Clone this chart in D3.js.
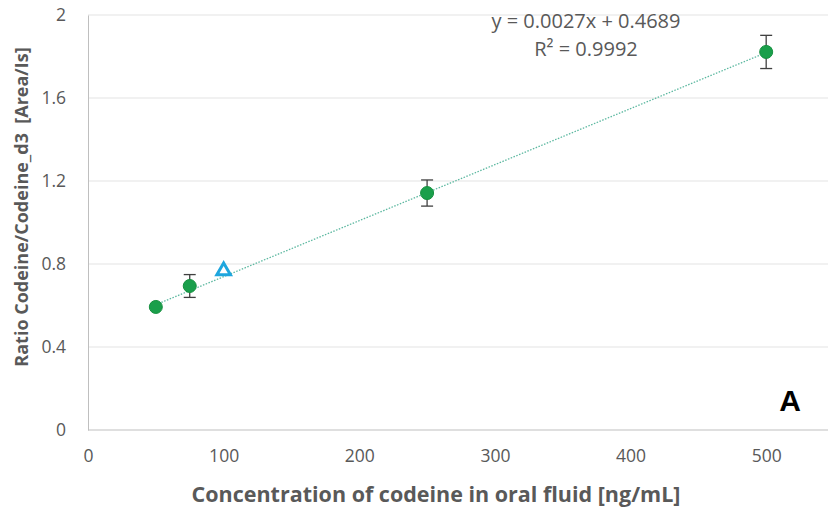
<!DOCTYPE html>
<html><head><meta charset="utf-8">
<script src="https://cdn.jsdelivr.net/npm/d3@7"></script>
<style>body{margin:0;background:#fff}svg{display:block}</style>
</head><body>
<svg id="c" width="828" height="512"></svg>
<script>
const concentrations = [50, 75, 250, 500];
const ratios = [0.593, 0.694, 1.142, 1.822];
const errors = [0.008, 0.055, 0.063, 0.080];
const qcConcentration = [100];
const qcRatio = [0.772];
const xTicks = [0, 100, 200, 300, 400, 500];
const yTicks = [0, 0.4, 0.8, 1.2, 1.6, 2];
const slope = 0.0027, intercept = 0.4689;
const equationLines = ["y = 0.0027x + 0.4689", "R² = 0.9992"];

const svg = d3.select("#c");
const x = d3.scaleLinear().domain([0, 550]).range([88, 834]);
const y = d3.scaleLinear().domain([0, 2]).range([430, 15]);
const font = "'Open Sans', 'Noto Sans', sans-serif";

// gridlines
svg.append("g").selectAll("line").data(yTicks.filter(d => d > 0)).join("line")
  .attr("x1", x(0)).attr("x2", 828).attr("y1", d => y(d)).attr("y2", d => y(d))
  .attr("stroke", "#e3e3e3").attr("stroke-width", 1);

// axes
const yAxis = svg.append("g").attr("transform", `translate(${x(0)},0)`)
  .call(d3.axisLeft(y).tickValues(yTicks).tickFormat(d3.format("")).tickSize(0).tickPadding(22));
yAxis.select(".domain").attr("stroke", "#bfbfbf");
const xAxis = svg.append("g").attr("transform", `translate(0,${y(0)})`)
  .call(d3.axisBottom(x).tickValues(xTicks).tickSize(0).tickPadding(20));
xAxis.select(".domain").attr("stroke", "#bfbfbf").attr("d", `M${x(0)},0H828`);
svg.selectAll(".tick text").attr("font-family", font).attr("font-size", 17.5).attr("fill", "#595959");

// trendline
svg.append("line")
  .attr("x1", x(50)).attr("y1", y(slope * 50 + intercept))
  .attr("x2", x(500)).attr("y2", y(slope * 500 + intercept))
  .attr("stroke", "#5cb8a0").attr("stroke-width", 1.3).attr("stroke-dasharray", "1.5,1.5");

// error bars
const eb = svg.append("g").attr("stroke", "#404040").attr("stroke-width", 1.3);
concentrations.forEach((c, i) => {
  if (errors[i] < 0.02) return;
  const cx = x(c), y1 = y(ratios[i] - errors[i]), y2 = y(ratios[i] + errors[i]);
  eb.append("line").attr("x1", cx).attr("x2", cx).attr("y1", y1).attr("y2", y2);
  eb.append("line").attr("x1", cx - 6).attr("x2", cx + 6).attr("y1", y1).attr("y2", y1);
  eb.append("line").attr("x1", cx - 6).attr("x2", cx + 6).attr("y1", y2).attr("y2", y2);
});

// points
svg.append("g").selectAll("circle").data(concentrations).join("circle")
  .attr("cx", d => x(d)).attr("cy", (d, i) => y(ratios[i])).attr("r", 6.5)
  .attr("fill", "#1a9f4b").attr("stroke", "#16903f").attr("stroke-width", 1);

// QC triangle
svg.append("g").selectAll("path").data(qcConcentration).join("path")
  .attr("d", d3.symbol().type(d3.symbolTriangle).size(80))
  .attr("transform", (d, i) => `translate(${x(d)},${y(qcRatio[i]) + 1})`)
  .attr("fill", "#fff").attr("stroke", "#1ea6de").attr("stroke-width", 3);

// equation
svg.append("g").selectAll("text").data(equationLines).join("text")
  .attr("x", 586).attr("y", (d, i) => 28 + i * 28).attr("text-anchor", "middle")
  .attr("font-family", font).attr("font-size", 20).attr("fill", "#595959").text(d => d);

// axis titles
svg.append("text").attr("x", 436).attr("y", 502).attr("text-anchor", "middle")
  .attr("font-family", font).attr("font-weight", "bold").attr("font-size", 21.5)
  .attr("fill", "#595959")
  .text("Concentration of codeine in oral fluid [ng/mL]");
svg.append("text").attr("transform", "translate(28,207) rotate(-90)").attr("text-anchor", "middle")
  .attr("font-family", font).attr("font-weight", "bold").attr("font-size", 18)
  .attr("fill", "#595959").style("white-space", "pre").text("Ratio Codeine/Codeine_d3  [Area/Is]");

// panel label
svg.append("text").attr("x", 790).attr("y", 411).attr("text-anchor", "middle")
  .attr("font-family", "'Liberation Sans', Arial, sans-serif").attr("font-weight", "bold")
  .attr("font-size", 30).attr("fill", "#000").text("A");
</script>
</body></html>
